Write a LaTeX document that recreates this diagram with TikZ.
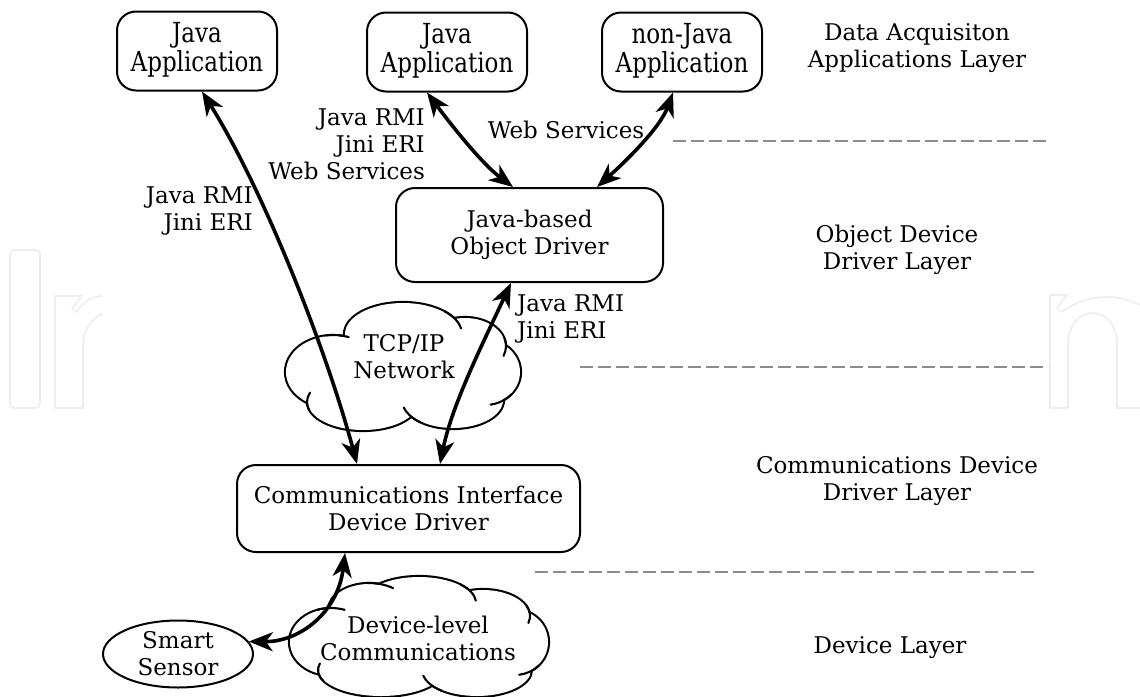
\documentclass[tikz,border=0pt]{standalone}
\usepackage{fontspec}
\usepackage{graphicx}
\setmainfont{DejaVu Serif}
\usetikzlibrary{arrows.meta,shapes.geometric}
\definecolor{sepgray}{HTML}{8C8C8C}
\definecolor{wmgray}{HTML}{EDEDED}
\begin{document}
\begin{tikzpicture}[x=1pt,y=-1pt,
  box/.style={draw,line width=2pt,rounded corners=19pt,inner sep=0pt,align=center,font=\fontsize{23}{27}\selectfont},
  topbox/.style={box,minimum width=160pt,minimum height=79pt,font=\fontsize{23}{22.5}\selectfont},
  txt/.style={inner sep=0pt,align=center,font=\fontsize{23}{27}\selectfont},
  conn/.style={line width=3.6pt,{Stealth[length=24pt,width=19pt,inset=7pt]}-{Stealth[length=24pt,width=19pt,inset=7pt]}},
  sep/.style={draw=sepgray,line width=2.6pt,dash pattern=on 13pt off 5pt},
  wm/.style={draw=wmgray,line width=1.6pt,line join=round},
  lobeout/.style={draw=black,line width=4.2pt},
  tail/.style={draw=black,line width=2.1pt,line cap=round}]
\useasboundingbox (0,0) rectangle (1140,696);

% faint watermark
\draw[wm,rounded corners=4pt] (10,250) rectangle (40,408);
\draw[wm] (102,296) .. controls (92,296) and (82,303) .. (77,312) -- (72,308) -- (82,296) -- (55,296) -- (55,408) -- (83,408) -- (83,345) .. controls (83,330) and (92,318) .. (102,314);
\draw[wm] (1140,305) .. controls (1110,290) and (1080,298) .. (1062,312) -- (1057,308) -- (1067,295) -- (1050,295) -- (1050,408) -- (1068,408) -- (1068,345) .. controls (1068,322) and (1082,313) .. (1093,313) .. controls (1106,313) and (1117,325) .. (1117,345) -- (1117,408) -- (1140,408);

% layer separators
\coordinate (s1a) at (673,141); \coordinate (s1b) at (1048,141);
\coordinate (s2a) at (580,367); \coordinate (s2b) at (1048,367);
\coordinate (s3a) at (535,572); \coordinate (s3b) at (1038,572);
\draw[sep] (s1a) -- (s1b);
\draw[sep] (s2a) -- (s2b);
\draw[sep] (s3a) -- (s3b);

% TCP/IP cloud
\begin{scope}[shift={(403,366)}]
  \foreach \cx/\cy/\rx/\ry in {-70/6/47/36,0/-32/58/31,62/-20/40/28,82/6/35/32,50/34/50/28,-40/36/55/28}
    \draw[lobeout] (\cx,\cy) ellipse[x radius=\rx,y radius=\ry];
  \foreach \cx/\cy/\rx/\ry in {-70/6/47/36,0/-32/58/31,62/-20/40/28,82/6/35/32,50/34/50/28,-40/36/55/28,0/2/88/34}
    \fill[white] (\cx,\cy) ellipse[x radius=\rx,y radius=\ry];
  \foreach \cx/\cy/\rx/\ry/\s/\e in {-70/6/47/36/262/289,0/-32/58/31/315/350,62/-20/40/28/344/380,82/6/35/32/43/81,50/34/50/28/130/165,-40/36/55/28/163/199}
    {\pgfmathsetmacro\ra{\rx+1}\pgfmathsetmacro\rb{\ry+1}
     \draw[tail] ({\cx+\ra*cos(\s)},{\cy+\rb*sin(\s)}) arc[start angle=\s,end angle=\e,x radius=\ra,y radius=\rb];}
\end{scope}
\node[txt] (tcp) at (404,357) {TCP/IP\\Network};

% Device-level cloud
\begin{scope}[shift={(419,636)}]
  \foreach \cx/\cy/\rx/\ry in {-88/6/41/33,-50/-26/40/26,0/-33/56/26,64/-20/46/26,96/6/33/32,58/34/54/26,-38/34/62/26}
    \draw[lobeout] (\cx,\cy) ellipse[x radius=\rx,y radius=\ry];
  \foreach \cx/\cy/\rx/\ry in {-88/6/41/33,-50/-26/40/26,0/-33/56/26,64/-20/46/26,96/6/33/32,58/34/54/26,-38/34/62/26,0/3/105/34}
    \fill[white] (\cx,\cy) ellipse[x radius=\rx,y radius=\ry];
  \foreach \cx/\cy/\rx/\ry/\s/\e in {-88/6/41/33/251/289,-50/-26/40/26/268/306,0/-33/56/26/317/355,64/-20/46/26/337/375,96/6/33/32/45/83,58/34/54/26/130/168,-38/34/62/26/156/194}
    {\pgfmathsetmacro\ra{\rx+1}\pgfmathsetmacro\rb{\ry+1}
     \draw[tail] ({\cx+\ra*cos(\s)},{\cy+\rb*sin(\s)}) arc[start angle=\s,end angle=\e,x radius=\ra,y radius=\rb];}
\end{scope}
\node[txt] (dlc) at (418,638) {Device-level\\Communications};

% boxes
\node[topbox] (app1) at (197,51) {\scalebox{1}[1.2]{\begin{tabular}{@{}c@{}}Java\\Application\end{tabular}}};
\node[topbox] (app2) at (447,52) {\scalebox{1}[1.2]{\begin{tabular}{@{}c@{}}Java\\Application\end{tabular}}};
\node[topbox] (app3) at (682,52) {\scalebox{1}[1.2]{\begin{tabular}{@{}c@{}}non-Java\\Application\end{tabular}}};
\node[box,minimum width=267pt,minimum height=94pt] (jod) at (529.5,235) {Java-based\\Object Driver};
\node[box,minimum width=343pt,minimum height=87pt] (comm) at (408.5,508.5) {Communications Interface\\Device Driver};
\node[draw,ellipse,line width=2pt,minimum width=150pt,minimum height=67pt,inner sep=0pt] (sensor) at (178,654) {};
\node[txt] (sensortxt) at (sensor.center) {Smart\\Sensor};

% connectors
\draw[conn] ([xshift=5pt]app1.south) .. controls (265,192) and (328,355) .. ([xshift=-51.5pt]comm.north);
\draw[conn] ([xshift=-20pt]app2.south) .. controls (449,122) and (481,163) .. ([xshift=-16.5pt]jod.north);
\draw[conn] ([xshift=-9pt]app3.south) .. controls (660,128) and (625,162) .. ([xshift=67.5pt]jod.north);
\draw[conn] ([xshift=-18.5pt]jod.south) .. controls (482,345) and (452,405) .. ([xshift=31.5pt]comm.north);
\draw[conn] ([xshift=-63.5pt]comm.south) .. controls (338,612) and (300,642) .. (sensor.10);

% connector labels
\node[txt,anchor=east,align=right] (lab1) at (425,144) {Java RMI\\Jini ERI\\Web Services};
\node[txt] (lab2) at (566,130) {Web Services};
\node[txt,anchor=east,align=right] (lab3) at (253,211) {Java RMI\\Jini ERI};
\node[txt,anchor=west,align=left] (lab4) at (517,319) {Java RMI\\Jini ERI};

% layer labels
\node[txt] (lay1) at (917,48) {Data Acquisiton\\Applications Layer};
\node[txt] (lay2) at (897,250) {Object Device\\Driver Layer};
\node[txt] (lay3) at (897,481) {Communications Device\\Driver Layer};
\node[txt] (lay4) at (890,648) {Device Layer};
\end{tikzpicture}
\end{document}
